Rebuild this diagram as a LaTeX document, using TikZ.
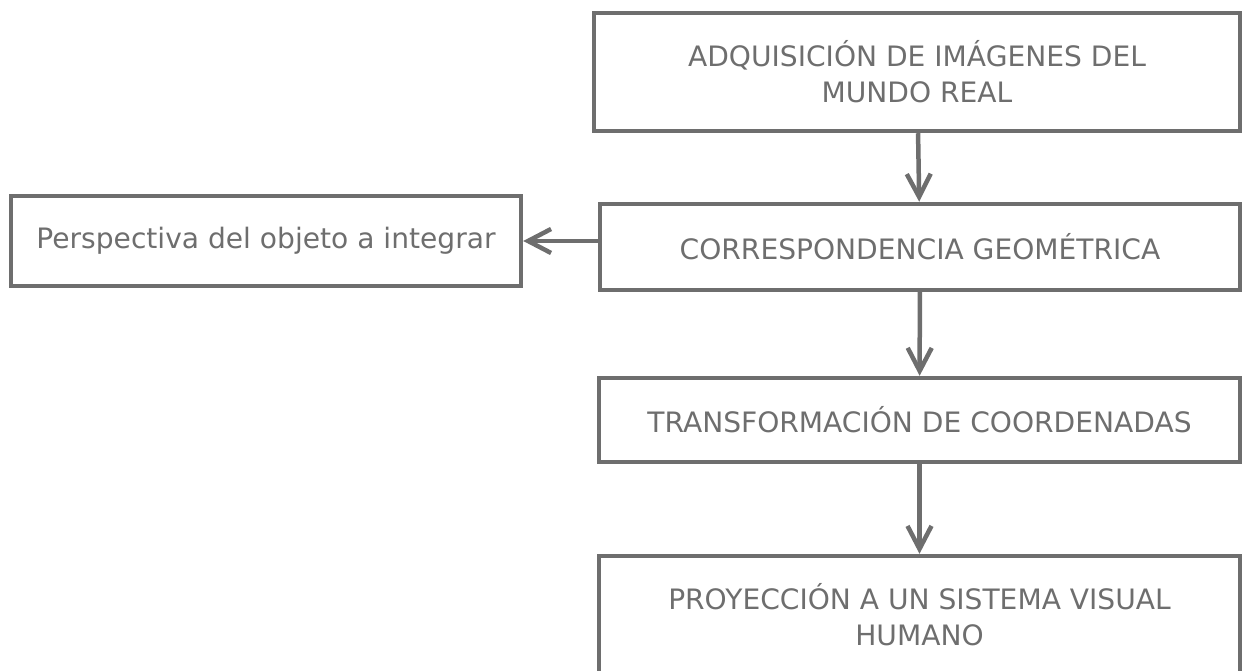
\documentclass[tikz,border=0pt]{standalone}
\usepackage{fontspec}
\setmainfont{DejaVu Sans}
\usetikzlibrary{arrows.meta}
\definecolor{boxgray}{RGB}{110,110,110}

\begin{document}
\begin{tikzpicture}[x=0.02cm, y=-0.02cm, color=boxgray, line width=0.09cm,
    >={Straight Barb[length=4.6mm,width=4.8mm]},
    box/.style={draw, align=center, inner sep=0pt,
      font=\fontsize{16}{20.5}\selectfont}]
  \useasboundingbox (0,0) rectangle (1244,671);
  \node[box, minimum width=12.92cm, minimum height=2.36cm] (adq) at (917,72)
    {ADQUISICIÓN DE IMÁGENES DEL\\MUNDO REAL};
  \node[box, minimum width=10.2cm, minimum height=1.8cm] (persp) at (266,241)
    {Perspectiva del objeto a integrar};
  \node[box, minimum width=12.8cm, minimum height=1.72cm] (corr) at (920,247)
    {CORRESPONDENCIA GEOMÉTRICA};
  \node[box, minimum width=12.82cm, minimum height=1.68cm] (trans) at (919.5,420)
    {TRANSFORMACIÓN DE COORDENADAS};
  \node[box, minimum width=12.82cm, minimum height=2.34cm] (proy) at (919.5,614.5)
    {PROYECCIÓN A UN SISTEMA VISUAL\\HUMANO};
  \draw[->] (adq) -- (corr);
  \draw[->] (corr.west |- persp.east) -- (persp.east);
  \draw[->] (corr) -- (trans);
  \draw[->] (trans) -- (proy);
\end{tikzpicture}
\end{document}
